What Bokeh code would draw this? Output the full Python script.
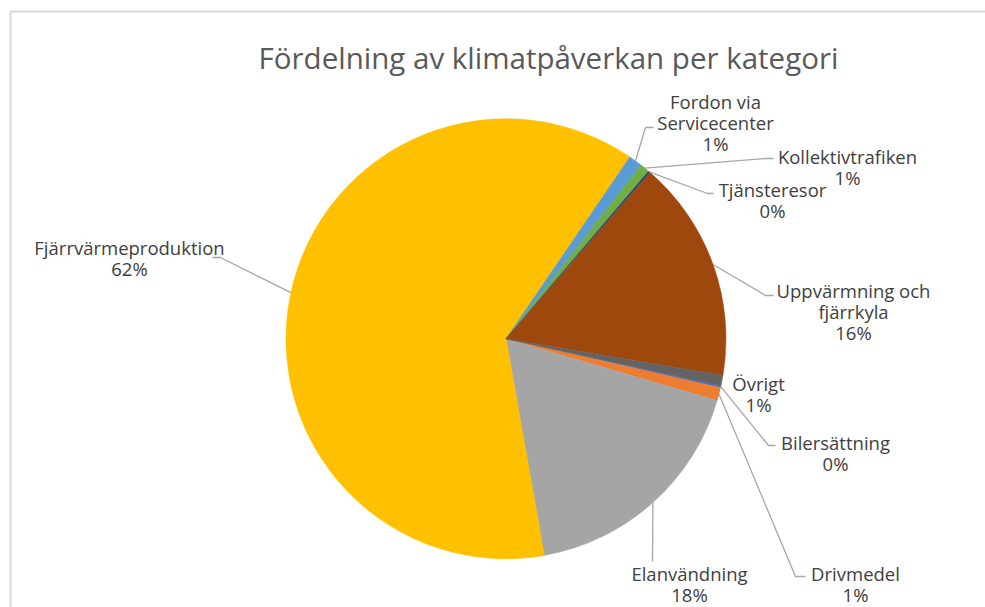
import math
from bokeh.plotting import figure
from bokeh.models import Range1d, ColumnDataSource
from bokeh.embed import file_html
from bokeh.resources import INLINE
from bokeh.core.properties import value

# ---------------- data ----------------
chart_title = "Fördelning av klimatpåverkan per kategori"
categories = [
    "Bilersättning",
    "Drivmedel",
    "Elanvändning",
    "Fjärrvärmeproduktion",
    "Fordon via Servicecenter",
    "Kollektivtrafiken",
    "Tjänsteresor",
    "Uppvärmning och fjärrkyla",
    "Övrigt",
]
shares = [0.15, 0.95, 17.7, 62.3, 1.0, 0.7, 0.15, 16.3, 0.75]
colors = ["#4472C4", "#ED7D31", "#A5A5A5", "#FFC000", "#5B9BD5",
          "#70AD47", "#264478", "#9E480E", "#636363"]
first_slice_angle = 102.3  # degrees clockwise from 12 o'clock

# ---------------- layout (page pixel coords) ----------------
W, H = 985, 607
def X(px):
    return px
def Y(py):
    return H - py

center_px = (505.5, 338.3)
radius = 220

wrap = {
    "Fordon via Servicecenter": ["Fordon via", "Servicecenter"],
    "Uppvärmning och fjärrkyla": ["Uppvärmning och", "fjärrkyla"],
}
label_pos = {
    "Bilersättning": (835, 442),
    "Drivmedel": (855, 573),
    "Elanvändning": (689, 573),
    "Fjärrvärmeproduktion": (129, 247),
    "Fordon via Servicecenter": (715, 101),
    "Kollektivtrafiken": (847, 156),
    "Tjänsteresor": (772, 189),
    "Uppvärmning och fjärrkyla": (853, 290),
    "Övrigt": (758, 383),
}
leader_path = {
    "Bilersättning": [(768, 445), (775, 445)],
    "Drivmedel": [(795, 576), (805, 576)],
    "Elanvändning": [(652, 561)],
    "Fjärrvärmeproduktion": [(220, 257), (212, 257)],
    "Fordon via Servicecenter": [(645, 127), (653, 127)],
    "Kollektivtrafiken": [(766, 158), (773, 158)],
    "Tjänsteresor": [(707, 193), (713, 193)],
    "Uppvärmning och fjärrkyla": [(765, 295), (773, 295)],
}
line_gap = 21

# ---------------- figure ----------------
p = figure(width=W, height=H, output_backend="svg", toolbar_location=None,
           x_range=Range1d(0, W), y_range=Range1d(0, H), min_border=0)
p.axis.visible = False
p.grid.visible = False
p.outline_line_color = None
p.background_fill_color = "white"
p.border_fill_color = "white"

# chart frame (top & left edges visible)
p.line(x=[X(10), W], y=[Y(11), Y(11)], line_color="#d9d9d9", line_width=2)
p.line(x=[X(10), X(10)], y=[Y(11), 0], line_color="#d9d9d9", line_width=2)

# wedges
total = sum(shares)
cx, cy = X(center_px[0]), Y(center_px[1])
starts, ends, mids = [], [], []
theta = first_slice_angle
for v in shares:
    span = v / total * 360.0
    starts.append(theta)
    ends.append(theta + span)
    mids.append(theta + span / 2)
    theta += span

src = ColumnDataSource(dict(
    x=[cx] * len(shares), y=[cy] * len(shares),
    start=[math.radians(90 - a) for a in starts],
    end=[math.radians(90 - a) for a in ends],
    color=colors,
))
p.wedge(x="x", y="y", radius=radius, start_angle="start", end_angle="end",
        direction="clock", fill_color="color", line_color="color",
        line_width=0.5, source=src)

# leader lines
xs, ys = [], []
for cat, m in zip(categories, mids):
    if cat not in leader_path:
        continue
    sx = cx + radius * math.sin(math.radians(m))
    sy = cy + radius * math.cos(math.radians(m))
    px = [sx] + [X(a) for a, b in leader_path[cat]]
    py = [sy] + [Y(b) for a, b in leader_path[cat]]
    xs.append(px)
    ys.append(py)
p.multi_line(xs=xs, ys=ys, line_color="#a6a6a6", line_width=1.3)

# labels
tx, ty, tt = [], [], []
for cat, v in zip(categories, shares):
    lines = wrap.get(cat, [cat]) + [f"{round(v / total * 100)}%"]
    lx, ly = label_pos[cat]
    for i, s in enumerate(lines):
        tx.append(X(lx))
        ty.append(Y(ly + i * line_gap))
        tt.append(s)
p.text(x=tx, y=ty, text=tt, text_align="center", text_baseline="middle",
       text_font=value("Open Sans"), text_font_size="18.5px", text_color="#404040")

# title
p.text(x=[X(548)], y=[Y(57)], text=[chart_title], text_align="center",
       text_baseline="middle", text_font=value("Open Sans"),
       text_font_size="29.5px", text_color="#595959")

open("out.html", "w").write(file_html(p, INLINE))
